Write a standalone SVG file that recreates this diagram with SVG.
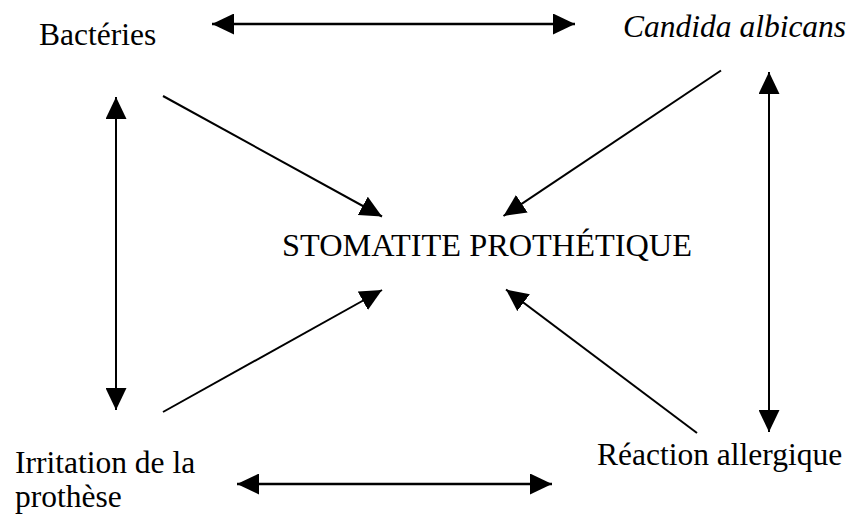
<svg xmlns="http://www.w3.org/2000/svg" width="850" height="516" viewBox="0 0 850 516">
<style>
text{font-family:"Liberation Serif","Times New Roman",serif;font-size:31.5px;fill:#000}
.it{font-style:italic}
.c{fill:none;stroke:#000;stroke-width:2}
.h{stroke-width:2.6}
</style>
<defs>
<marker id="ah" markerUnits="userSpaceOnUse" markerWidth="22" markerHeight="21" viewBox="0 0 22 21" refX="22" refY="10.5" orient="auto-start-reverse">
<path d="M0,0 L22,10.5 L0,21 z" fill="#000"/>
</marker>
</defs>
<rect width="850" height="516" fill="#fff"/>
<g id="bacteries"><text x="39" y="45">Bactéries</text></g>
<g id="candida"><text class="it" x="623" y="37">Candida albicans</text></g>
<g id="stomatite"><text x="282" y="256" textLength="410" lengthAdjust="spacingAndGlyphs">STOMATITE PROTHÉTIQUE</text></g>
<g id="irritation"><text x="15" y="473">Irritation de la</text><text x="15" y="507">prothèse</text></g>
<g id="reaction"><text x="597" y="465">Réaction allergique</text></g>
<g id="connectors">
<path class="c h" d="M212,24 H575" marker-start="url(#ah)" marker-end="url(#ah)"/>
<path class="c h" d="M237,484 H552" marker-start="url(#ah)" marker-end="url(#ah)"/>
<path class="c" d="M116,97 V410" marker-start="url(#ah)" marker-end="url(#ah)"/>
<path class="c" d="M769,72 V432" marker-start="url(#ah)" marker-end="url(#ah)"/>
<path class="c" d="M163,96 L382,216.5" marker-end="url(#ah)"/>
<path class="c" d="M721,70.5 L503.5,216" marker-end="url(#ah)"/>
<path class="c" d="M163,412 L382,290" marker-end="url(#ah)"/>
<path class="c" d="M697,433 L506,289.5" marker-end="url(#ah)"/>
</g>
</svg>
